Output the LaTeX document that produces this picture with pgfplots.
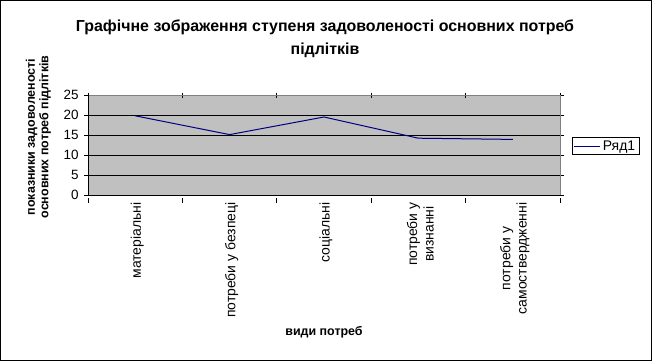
\documentclass[border=0pt]{standalone}
\usepackage{pgfplots}
\pgfplotsset{compat=1.18}
\usepackage{fontspec}
\setmainfont{Liberation Sans}
\definecolor{plotgray}{RGB}{192,192,192}
\definecolor{bordergray}{RGB}{128,128,128}
\definecolor{navyline}{RGB}{0,0,128}
\begin{document}
\begin{tikzpicture}[x=1bp,y=1bp]
\draw[black, line width=1bp] (0.5,0.5) rectangle (651.5,360.5);
\node[align=center, font=\fontsize{16}{23}\selectfont\bfseries] at (325,322)
  {Графічне зображення ступеня задоволеності основних потреб\\підлітків};
\begin{axis}[
  at={(88bp,166bp)}, anchor=south west,
  scale only axis, width=472bp, height=100bp,
  xmin=-0.5, xmax=4.5, ymin=0, ymax=25,
  axis background/.style={fill=plotgray},
  axis line style={draw=none},
  xtick={0,1,2,3,4},
  xticklabels={матеріальні, потреби у безпеці, соціальні, {потреби у\\визнанні}, {потреби у\\самоствердженні}},
  major x tick style={draw=none},
  minor xtick={-0.5,0.5,1.5,2.5,3.5,4.5},
  minor tick length=5bp,
  minor x tick style={black, line width=0.8bp, yshift=-2.5bp},
  xticklabel style={rotate=90, anchor=east, align=center, font=\fontsize{14}{16.5}\selectfont, yshift=-2bp},
  ytick={0,5,10,15,20,25},
  major tick length=4bp,
  tick align=outside,
  y tick style={black, line width=0.8bp},
  yticklabel style={font=\fontsize{13.5}{15}\selectfont, xshift=-2bp},
  /pgf/number format/assume math mode=true,
  ymajorgrids, grid style={black, line width=0.8bp},
  xlabel={види потреб},
  xlabel style={font=\fontsize{12.5}{14}\selectfont\bfseries, at={(axis description cs:0.5,-1.37)}, anchor=center},
  ylabel={показники задоволеності\\основних потреб підлітків},
  ylabel style={font=\fontsize{12.5}{13.5}\selectfont\bfseries, align=center, at={(axis description cs:-0.105,0.58)}, anchor=center},
  legend style={at={(1.0245,0.49)}, anchor=west, draw=black, line width=0.6bp, font=\fontsize{14}{16}\selectfont, inner xsep=2pt, inner ysep=1pt,
    /tikz/every even column/.append style={column sep=0pt}},
  legend image code/.code={\draw[#1] (0bp,0bp) -- (26bp,0bp);},
  legend cell align=left,
  clip=false,
]
\draw[bordergray, line width=0.8bp] (axis cs:-0.5,0) -- (axis cs:-0.5,25) -- (axis cs:4.5,25) -- (axis cs:4.5,0);
\draw[black, line width=0.8bp] (axis cs:-0.5,25) -- (axis cs:-0.5,0) -- (axis cs:4.5,0);
\addplot[navyline, line width=1bp, mark=none] coordinates {
  (0,19.8) (1,15.1) (2,19.5) (3,14.2) (4,13.9)
};
\addlegendentry{Ряд1}
\end{axis}
\end{tikzpicture}
\end{document}
